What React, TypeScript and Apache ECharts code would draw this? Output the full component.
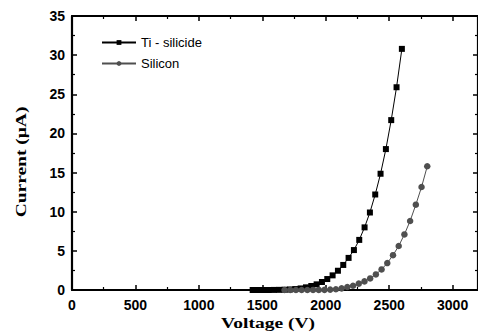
import React, { useEffect, useRef } from "react";
import * as echarts from "echarts";

const tiVoltage = [1424, 1466, 1508, 1550, 1592, 1634, 1676, 1718, 1760, 1802, 1844, 1886, 1928, 1970, 2012, 2054, 2096, 2138, 2180, 2222, 2264, 2306, 2348, 2390, 2432, 2474, 2516, 2558, 2600];
const tiCurrent = [0, 0, 0, 0, 0.01, 0.02, 0.04, 0.07, 0.12, 0.2, 0.34, 0.51, 0.72, 1.02, 1.4, 1.87, 2.46, 3.2, 4.1, 5.1, 6.4, 8.0, 9.9, 12.2, 14.85, 18.0, 21.7, 25.9, 30.8];
const siVoltage = [1675, 1720, 1765, 1810, 1855, 1900, 1945, 1990, 2035, 2080, 2125, 2170, 2215, 2260, 2305, 2350, 2395, 2440, 2485, 2530, 2575, 2620, 2665, 2710, 2755, 2800];
const siCurrent = [0, 0, 0, 0, 0, 0.01, 0.01, 0.02, 0.05, 0.1, 0.21, 0.38, 0.55, 0.81, 1.1, 1.48, 1.99, 2.63, 3.44, 4.45, 5.62, 7.1, 8.82, 10.9, 13.15, 15.8];
const seriesNames = ["Ti - silicide", "Silicon"];
const xTitle = "Voltage (V)";
const yTitle = "Current (μA)";
const xRange = { min: 0, max: 3200, interval: 500 };
const yRange = { min: 0, max: 35, interval: 5 };

function axis(kind: "x" | "y", position: string, showLabel: boolean) {
  const r = kind === "x" ? xRange : yRange;
  return {
    type: "value",
    position,
    min: r.min,
    max: r.max,
    interval: r.interval,
    axisLine: { show: true, onZero: false, lineStyle: { color: "black", width: 2.2 } },
    axisTick: { show: true, inside: true, length: 5, lineStyle: { color: "black", width: 1.5 } },
    minorTick: { show: true, splitNumber: 2, length: 3, lineStyle: { color: "black", width: 1.2 } },
    splitLine: { show: false },
    axisLabel: {
      show: showLabel,
      color: "black",
      fontFamily: "Arial",
      fontWeight: "bold",
      fontSize: 14,
      margin: kind === "x" ? 8 : 7,
      showMaxLabel: kind === "y",
      formatter: (v: number) => String(v),
    },
  };
}

export default function App() {
  const ref = useRef<HTMLDivElement>(null);
  useEffect(() => {
    const chart = echarts.init(ref.current!, null, { renderer: "svg" });
    chart.setOption({
      animation: false,
      backgroundColor: "#fff",
      grid: { left: 72, top: 16, right: -5, bottom: 46 },
      legend: {
        orient: "vertical",
        left: 96,
        top: 31,
        itemWidth: 34,
        itemHeight: 6,
        itemGap: 8,
        data: seriesNames,
        textStyle: { color: "#000", fontFamily: "Liberation Sans", fontSize: 13 },
      },
      xAxis: [axis("x", "bottom", true), axis("x", "top", false)],
      yAxis: [axis("y", "left", true), axis("y", "right", false)],
      graphic: [
        {
          type: "text",
          x: 268,
          y: 323,
          scaleX: 1.3,
          style: {
            text: xTitle,
            font: "bold 15px 'Liberation Serif', serif",
            fill: "#000",
            align: "center",
            verticalAlign: "middle",
          },
        },
        {
          type: "text",
          x: 21,
          y: 162,
          rotation: Math.PI / 2,
          scaleX: 1.3,
          style: {
            text: yTitle,
            font: "bold 15px 'Liberation Serif', serif",
            fill: "#000",
            align: "center",
            verticalAlign: "middle",
          },
        },
      ],
      series: [
        {
          name: seriesNames[0],
          type: "line",
          data: tiVoltage.map((v, i) => [v, tiCurrent[i]]),
          symbol: "rect",
          symbolSize: 6,
          itemStyle: { color: "#000" },
          lineStyle: { color: "#000", width: 1 },
        },
        {
          name: seriesNames[1],
          type: "line",
          data: siVoltage.map((v, i) => [v, siCurrent[i]]),
          symbol: "circle",
          symbolSize: 6.5,
          itemStyle: { color: "#4f4f4f" },
          lineStyle: { color: "#4f4f4f", width: 1 },
        },
      ],
    });
    return () => chart.dispose();
  }, []);
  return <div ref={ref} style={{ width: 478, height: 336, position: "absolute", left: 0, top: 0 }} />;
}
